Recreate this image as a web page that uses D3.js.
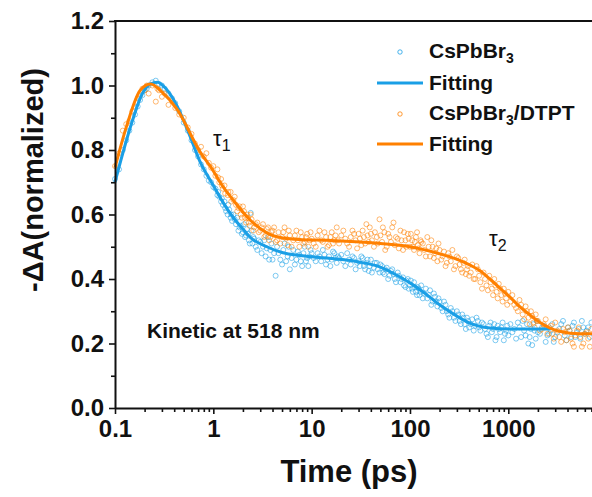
<!DOCTYPE html>
<html>
<head>
<meta charset="utf-8">
<script src="https://cdnjs.cloudflare.com/ajax/libs/d3/7.8.5/d3.min.js"></script>
<style>
  body { margin: 0; background: #fff; }
  text { font-family: "Liberation Sans", Arial, sans-serif; }
</style>
</head>
<body>
<svg width="592" height="497"></svg>
<script>
// scatter data, [time (ps), -dA normalized]
const cspbbr3 = [
  [0.10,.71],[0.11,.74],[0.12,.80],[0.13,.83],[0.14,.86],[0.15,.885],[0.16,.91],[0.17,.935],[0.18,.955],[0.19,.97],
  [0.2,.985],[0.21,.99],[0.22,1.0],[0.24,1.01],[0.26,1.015],[0.28,1.005],[0.3,1.0],[0.32,.99],[0.35,.975],[0.38,.96],
  [0.41,.945],[0.45,.92],[0.5,.885],[0.55,.86],[0.6,.83],[0.65,.80],[0.7,.78],[0.75,.755],[0.8,.74],[0.85,.72],
  [0.9,.705],[0.95,.70],[1.0,.685],[1.05,.68],[1.1,.66],[1.15,.655],[1.2,.64],[1.25,.63],[1.3,.64],[1.35,.61],
  [1.4,.60],[1.45,.615],[1.5,.59],[1.55,.58],[1.6,.60],[1.7,.57],[1.8,.55],[1.9,.565],[2.0,.545],[2.1,.53],
  [2.2,.555],[2.3,.52],[2.4,.605],[2.5,.51],[2.6,.525],[2.8,.49],[3.0,.515],[3.2,.50],[3.4,.47],[3.6,.53],
  [3.8,.49],[4.0,.46],[4.3,.41],[4.6,.48],[5.0,.445],[5.3,.51],[5.7,.47],[6.0,.43],[6.5,.49],[7.0,.46],
  [7.5,.475],[8.0,.44],[8.5,.50],[9.0,.465],[9.5,.47],[10,.48],[11,.455],[12,.47],[13,.49],[14,.445],
  [15,.47],[16,.46],[17,.48],[18,.45],[19,.465],[20,.475],[22,.44],[24,.46],[26,.47],[28,.43],
  [30,.455],[32,.47],[34,.44],[36,.45],[38,.425],[40,.46],[43,.435],[46,.45],[49,.42],[52,.44],
  [55,.415],[58,.435],[62,.41],[66,.43],[70,.40],[75,.42],[80,.39],[85,.405],[90,.375],[95,.40],
  [100,.38],[105,.37],[110,.39],[115,.36],[120,.375],[125,.35],[130,.38],[140,.355],[150,.34],[160,.365],
  [170,.33],[180,.345],[190,.315],[200,.33],[215,.30],[230,.32],[245,.29],[260,.31],[280,.28],[300,.30],
  [320,.27],[340,.29],[360,.26],[380,.28],[400,.25],[430,.275],[460,.255],[490,.27],[520,.24],[560,.26],
  [600,.23],[640,.255],[680,.235],[720,.26],[760,.22],[800,.245],[850,.25],[900,.21],[950,.24],[1000,.225],
  [1050,.26],[1100,.235],[1200,.215],[1300,.25],[1400,.27],[1500,.225],[1600,.20],[1700,.245],[1800,.26],[1900,.215],
  [2000,.235],[2200,.25],[2400,.205],[2600,.23],[2800,.26],[3000,.22],[3300,.245],[3600,.27],[3900,.21],[4200,.24],
  [4500,.255],[4800,.22],[5200,.245],[5600,.27],[6000,.23],[6500,.25],[7000,.265],
  [1.12,.67],[1.22,.65],[1.32,.62],[1.42,.63],[1.52,.60],[1.65,.585],[1.75,.59],[1.85,.56],[1.95,.54],[2.05,.57],
  [2.15,.535],[2.25,.54],[2.35,.51],[2.45,.55],[2.55,.53],[2.7,.50],[2.9,.52],[3.1,.48],[3.3,.52],[3.5,.495],
  [3.7,.46],[3.9,.51],[4.15,.48],[4.45,.50],[4.8,.46],[5.15,.49],[5.5,.455],[5.85,.50],[6.25,.465],[6.75,.445],
  [7.25,.485],[7.75,.455],[8.25,.48],[8.75,.455],[9.25,.44],[9.75,.49],[10.5,.465],[11.5,.48],[12.5,.455],[13.5,.475],
  [14.5,.46],[15.5,.44],[16.5,.485],[17.5,.465],[18.5,.47],[21,.455],[23,.48],[25,.445],[27,.465],[29,.45],
  [31,.44],[33,.465],[35,.43],[37,.46],[39,.44],[41,.42],[44,.45],[47,.43],[50,.445],[53,.42],
  [56,.43],[60,.40],[64,.425],[68,.415],[72,.39],[77,.41],[82,.40],[87,.38],[92,.395],[97,.37],
  [102,.395],[107,.36],[112,.375],[118,.35],[123,.37],[128,.36],[135,.34],[145,.37],[155,.35],[165,.32],
  [175,.355],[185,.33],[195,.34],[208,.31],[222,.33],[237,.30],[252,.28],[270,.30],[290,.27],[310,.29],
  [330,.26],[350,.28],[370,.245],[390,.27],[415,.26],[445,.24],[475,.28],[505,.25],[540,.265],[580,.245],
  [620,.22],[660,.265],[700,.245],[740,.21],[780,.255],[825,.235],[875,.265],[925,.23],[975,.255],[1150,.245],
  [1250,.265],[1350,.22],[1450,.24],[1550,.26],[1650,.22],[1750,.195],[1850,.24],[1950,.27],[2100,.23],[2300,.255],
  [2500,.225],[2700,.24],[2900,.205],[3150,.235],[3450,.26],[3750,.225],[4050,.25],[4350,.22],[4650,.265],[5000,.235],
  [5400,.215],[5800,.25],[6250,.24],[6750,.22]
];

const dtpt = [
  [0.1,.75],[0.11,.79],[0.12,.86],[0.13,.88],[0.14,.89],[0.15,.92],[0.16,.935],[0.17,.96],[0.18,.97],[0.19,.99],
  [0.2,.985],[0.21,1.0],[0.22,.975],[0.24,1.0],[0.26,.95],[0.27,.99],[0.28,.985],[0.3,.965],[0.32,.975],[0.35,.94],
  [0.38,.955],[0.41,.93],[0.45,.91],[0.5,.90],[0.55,.87],[0.6,.85],[0.65,.82],[0.7,.80],[0.75,.81],[0.8,.78],
  [0.85,.79],[0.9,.76],[0.95,.745],[1.0,.75],[1.05,.72],[1.1,.74],[1.15,.70],[1.2,.71],[1.25,.68],[1.3,.69],
  [1.4,.66],[1.5,.67],[1.6,.645],[1.7,.63],[1.8,.62],[1.9,.60],[2.0,.625],[2.1,.59],[2.2,.60],[2.3,.575],
  [2.4,.60],[2.6,.56],[2.8,.575],[3.0,.55],[3.2,.57],[3.4,.535],[3.6,.56],[3.8,.53],[4.0,.55],[4.3,.515],
  [4.6,.545],[5.0,.53],[5.3,.56],[5.7,.505],[6.0,.535],[6.5,.52],[7.0,.55],[7.5,.50],[8.0,.53],[8.5,.515],
  [9.0,.54],[9.5,.52],[10,.525],[11,.50],[12,.55],[13,.515],[14,.53],[15,.505],[16,.545],[17,.52],
  [18,.56],[19,.51],[20,.535],[22,.525],[24,.50],[26,.55],[28,.52],[30,.54],[32,.505],[34,.53],
  [36,.57],[38,.515],[40,.54],[43,.50],[46,.53],[49,.585],[52,.515],[55,.545],[58,.50],[62,.53],
  [66,.56],[70,.505],[75,.525],[80,.55],[85,.49],[90,.52],[95,.54],[100,.50],[105,.52],[110,.49],
  [115,.53],[120,.505],[125,.48],[130,.515],[140,.49],[150,.53],[160,.47],[170,.50],[180,.48],[190,.455],
  [200,.49],[215,.47],[230,.44],[245,.48],[260,.455],[280,.43],[300,.47],[320,.445],[340,.42],[360,.46],
  [380,.43],[400,.41],[430,.445],[460,.40],[490,.43],[520,.39],[560,.42],[600,.38],[640,.41],[680,.37],
  [720,.40],[760,.36],[800,.385],[850,.35],[900,.37],[950,.34],[1000,.36],[1050,.33],[1100,.35],[1200,.31],
  [1300,.335],[1400,.29],[1500,.315],[1600,.28],[1700,.30],[1800,.265],[1900,.29],[2000,.27],[2200,.245],[2400,.275],
  [2600,.25],[2800,.23],[3000,.265],[3300,.22],[3600,.245],[3900,.21],[4200,.24],[4500,.20],[4800,.225],[5200,.25],
  [5600,.19],[6000,.23],[6500,.215],[7000,.245],
  [1.12,.715],[1.22,.69],[1.32,.665],[1.42,.67],[1.52,.64],[1.65,.655],[1.75,.61],[1.85,.625],[1.95,.59],[2.05,.61],
  [2.15,.575],[2.25,.59],[2.35,.565],[2.45,.585],[2.55,.55],[2.7,.57],[2.9,.545],[3.1,.56],[3.3,.53],[3.5,.555],
  [3.7,.52],[3.9,.545],[4.15,.56],[4.45,.52],[4.8,.51],[5.15,.545],[5.5,.525],[5.85,.55],[6.25,.50],[6.75,.535],
  [7.25,.52],[7.75,.545],[8.25,.51],[8.75,.53],[9.25,.50],[9.75,.545],[10.5,.51],[11.5,.535],[12.5,.52],[13.5,.545],
  [14.5,.50],[15.5,.53],[16.5,.51],[17.5,.535],[18.5,.52],[21,.55],[23,.51],[25,.53],[27,.54],[29,.495],
  [31,.525],[33,.55],[35,.51],[37,.535],[39,.56],[41,.52],[44,.545],[47,.51],[50,.535],[53,.56],
  [56,.49],[60,.54],[64,.515],[68,.575],[72,.53],[77,.495],[82,.52],[87,.545],[92,.50],[97,.525],
  [102,.54],[107,.50],[112,.515],[118,.545],[123,.495],[128,.52],[135,.51],[145,.47],[155,.50],[165,.52],
  [175,.465],[185,.495],[195,.51],[208,.46],[222,.485],[237,.45],[252,.47],[270,.49],[290,.44],[310,.465],
  [330,.43],[350,.45],[370,.415],[390,.44],[415,.42],[445,.40],[475,.44],[505,.41],[540,.37],[580,.40],
  [620,.365],[660,.39],[700,.35],[740,.38],[780,.34],[825,.37],[875,.33],[925,.355],[975,.32],[1150,.32],
  [1250,.30],[1350,.32],[1450,.275],[1550,.30],[1650,.26],[1750,.285],[1850,.25],[1950,.27],[2100,.24],[2300,.26],
  [2500,.23],[2700,.255],[2900,.215],[3150,.24],[3450,.205],[3750,.235],[4050,.25],[4350,.215],[4650,.19],[5000,.24],
  [5400,.22],[5800,.20],[6250,.235],[6750,.19]
];

// fitted curves
const fitCspbbr3 = [
  [0.1,.70],[0.12,.79],[0.15,.89],[0.19,.975],[0.23,1.005],[0.27,1.01],[0.33,.99],[0.43,.935],[0.55,.86],[0.73,.765],
  [1,.69],[1.3,.63],[1.6,.59],[2,.555],[2.4,.528],[3.5,.50],[5,.482],[8,.472],[14,.465],[30,.453],
  [50,.437],[75,.41],[100,.388],[150,.35],[200,.32],[300,.285],[400,.264],[650,.248],[1000,.245],[2700,.245]
];
const fitDtpt = [
  [0.1,.745],[0.13,.87],[0.18,.985],[0.23,1.005],[0.3,.98],[0.43,.925],[0.73,.795],[1,.735],[1.17,.70],[1.59,.645],
  [2.37,.583],[3.5,.543],[5.1,.527],[8,.522],[14,.52],[50,.51],[100,.50],[200,.478],[320,.458],[410,.443],
  [520,.425],[650,.40],[820,.372],[1040,.344],[1300,.315],[1670,.288],[2100,.265],[2660,.248],[3400,.237],[4250,.232],
  [7100,.23]
];

const xTicks = [0.1, 1, 10, 100, 1000];
const yTicks = [0, 0.2, 0.4, 0.6, 0.8, 1.0, 1.2];
const legendLabels = ["CsPbBr", "Fitting", "CsPbBr", "Fitting"];

const blue = "#1a9fe6", orange = "#ff8000";

let svg = d3.select('svg');

let x = d3.scaleLog().domain([0.1, 7100]).range([115, 592]);
let y = d3.scaleLinear().domain([0, 1.2]).range([408, 21]);

// minor ticks
let xMinor = [];
[0.1, 1, 10, 100, 1000].forEach(d => { for (let k = 2; k <= 9; k++) if (d * k < 7100) xMinor.push(d * k); });
let yMinor = [0.1, 0.3, 0.5, 0.7, 0.9, 1.1];

// scatter
function scatter(data, color) {
    svg.append('g').selectAll('circle')
        .data(data)
        .enter()
        .append('circle')
        .attr('cx', d => x(d[0]))
        .attr('cy', d => y(d[1]))
        .attr('r', 2.5)
        .attr('fill', 'none')
        .attr('stroke', color)
        .attr('stroke-width', 0.8)
        .attr('opacity', 0.7);
}
scatter(cspbbr3, blue);
scatter(dtpt, orange);

let lineFn = d3.line()
    .curve(d3.curveMonotoneX)
    .x(d => x(d[0]))
    .y(d => y(d[1]));

svg.append('path').datum(fitCspbbr3)
    .attr('d', lineFn).attr('fill', 'none').attr('stroke', blue).attr('stroke-width', 3);
svg.append('path').datum(fitDtpt)
    .attr('d', lineFn).attr('fill', 'none').attr('stroke', orange).attr('stroke-width', 3);

// axes
svg.append('g').attr('transform', 'translate(115,0)')
    .call(d3.axisLeft(y).tickValues(yTicks).tickFormat(d3.format('.1f')).tickSizeInner(6).tickSizeOuter(0).tickPadding(5));
svg.append('g').attr('transform', 'translate(115,0)')
    .call(d3.axisLeft(y).tickValues(yMinor).tickFormat('').tickSizeInner(4).tickSizeOuter(0))
    .select('.domain').remove();

svg.append('g').attr('transform', 'translate(0,408)')
    .call(d3.axisBottom(x).tickValues(xTicks).tickFormat(d => d).tickSizeInner(6).tickSizeOuter(0).tickPadding(6));
svg.append('g').attr('transform', 'translate(0,408)')
    .call(d3.axisBottom(x).tickValues(xMinor).tickFormat('').tickSizeInner(4).tickSizeOuter(0))
    .select('.domain').remove();

svg.selectAll('.domain').attr('stroke-width', 2).attr('stroke', '#111');
svg.selectAll('.tick line').attr('stroke-width', 1.6).attr('stroke', '#111');
svg.selectAll('.tick text').attr('font-size', 24).attr('font-weight', 'bold')
    .attr('font-family', '"Liberation Sans", Arial, sans-serif').attr('fill', '#111');

// top frame
svg.append('line')
    .attr('x1', x.range()[0] - 1).attr('x2', x.range()[1])
    .attr('y1', y(1.2)).attr('y2', y(1.2))
    .attr('stroke', '#111').attr('stroke-width', 2);

// axis titles
svg.append('text').attr('x', 349).attr('y', 482).attr('text-anchor', 'middle')
    .attr('font-size', 31).attr('font-weight', 'bold').attr('fill', '#111').text('Time (ps)');
svg.append('text').attr('transform', 'translate(43,180) rotate(-90)').attr('text-anchor', 'middle')
    .attr('font-size', 29).attr('font-weight', 'bold').attr('fill', '#111').text('-ΔA(normalized)');

svg.append('text').attr('x', 147).attr('y', 338)
    .attr('font-size', 21).attr('font-weight', 'bold').attr('fill', '#111').text('Kinetic at 518 nm');

// tau labels
function tau(px, py, sub) {
    let t = svg.append('text').attr('x', px).attr('y', py).attr('font-size', 22).attr('fill', '#111');
    t.append('tspan').text('τ');
    t.append('tspan').attr('font-size', 16).attr('dy', 5).text(sub);
}
tau(213, 146, '1');
tau(489, 246, '2');

// legend
let legend = svg.append('g');
let rows = [58, 90, 120, 151];
legendLabels.forEach((lab, i) => {
    let color = i < 2 ? blue : orange;
    if (i % 2 == 0) {
        legend.append('circle').attr('cx', 400).attr('cy', rows[i] - 6).attr('r', 2.2)
            .attr('fill', 'none').attr('stroke', color).attr('stroke-width', 0.8);
    } else {
        legend.append('line').attr('x1', 377).attr('x2', 423).attr('y1', rows[i] - 7).attr('y2', rows[i] - 7)
            .attr('stroke', color).attr('stroke-width', 3);
    }
    let t = legend.append('text').attr('x', 429).attr('y', rows[i])
        .attr('font-size', 21).attr('font-weight', 'bold').attr('fill', '#111');
    t.append('tspan').text(lab);
    if (i % 2 == 0) {
        t.append('tspan').attr('font-size', 14).attr('dy', 5).text('3');
        if (i == 2) t.append('tspan').attr('dy', -5).text('/DTPT');
    }
});
</script>
</body>
</html>
